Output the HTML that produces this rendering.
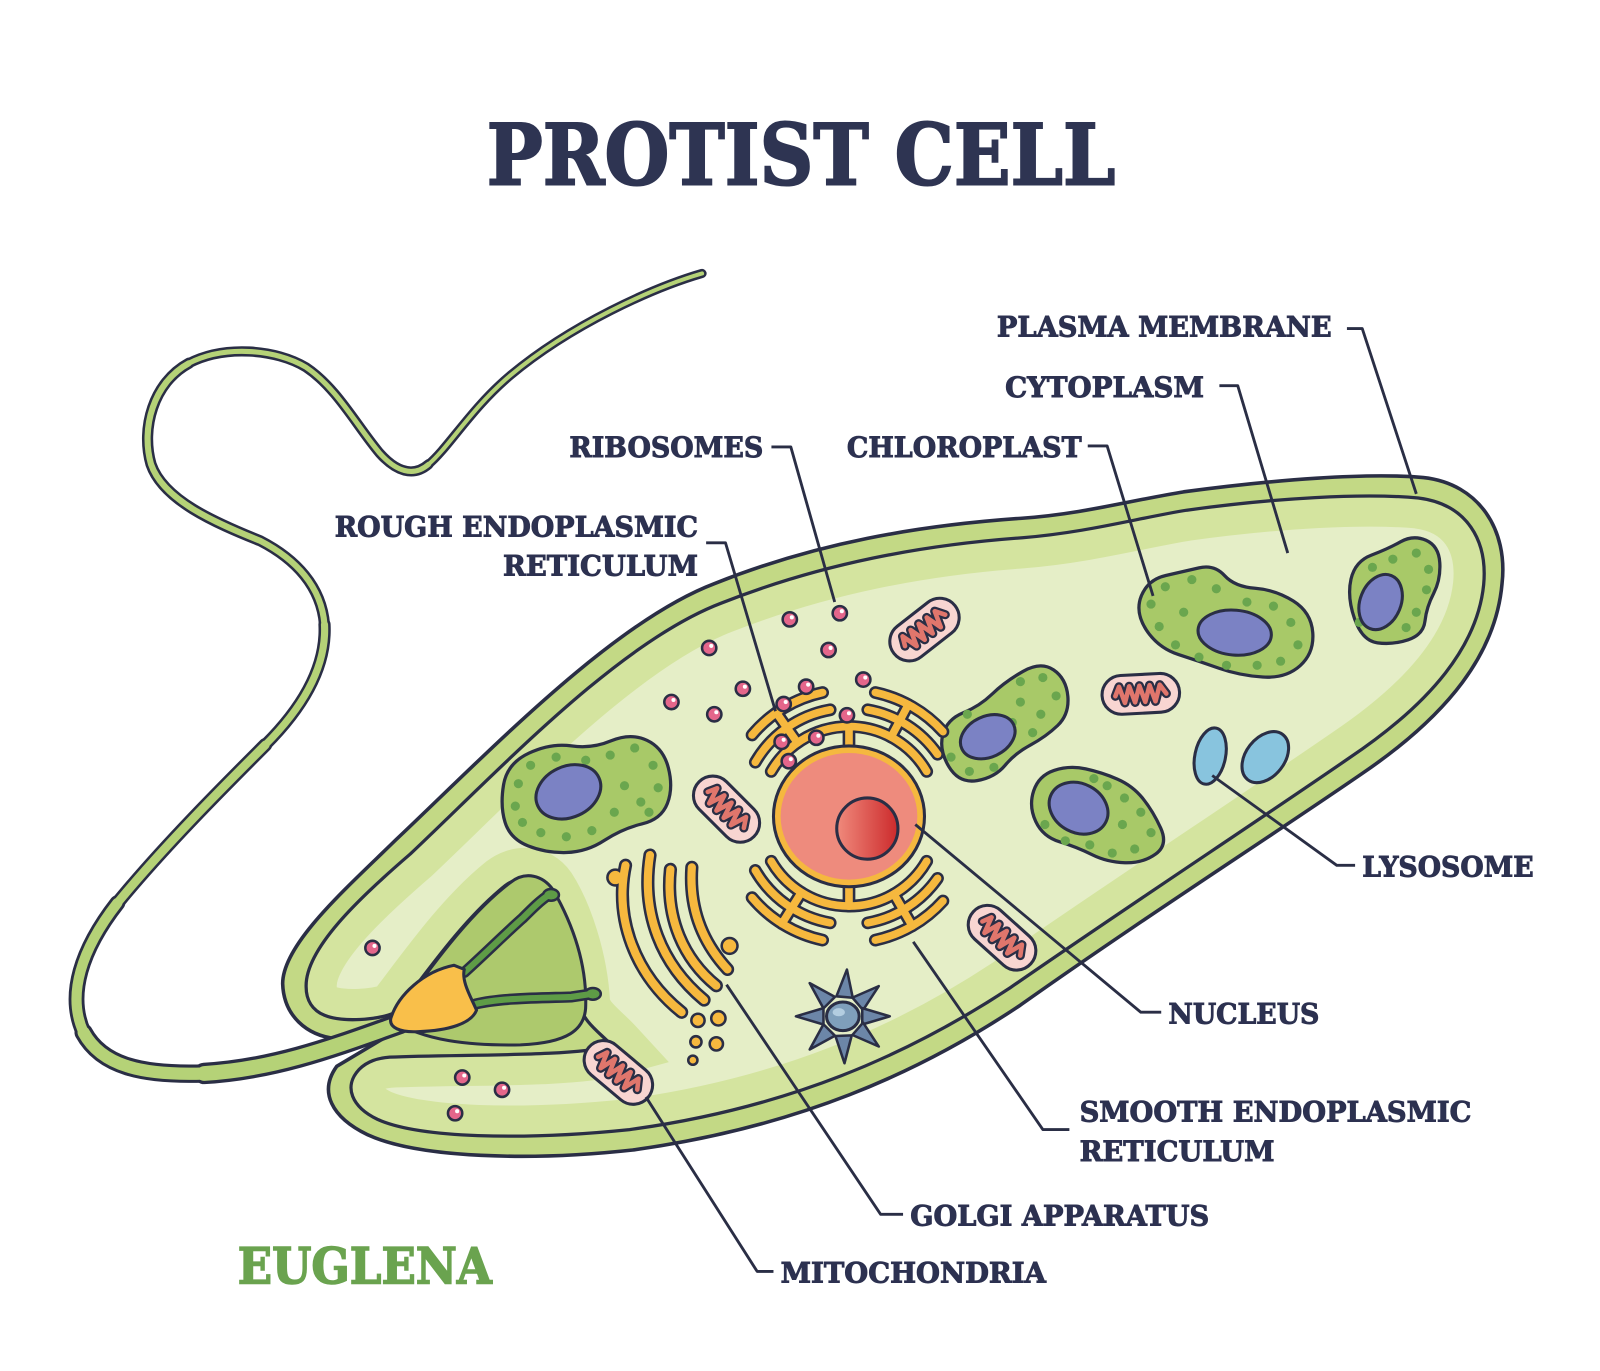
<!DOCTYPE html>
<html>
<head>
<meta charset="utf-8">
<style>
  html,body{margin:0;padding:0;background:#ffffff;}
  svg{display:block;}
  .lbl{font-family:"DejaVu Serif","Liberation Serif",serif;font-weight:bold;fill:#2c3150;font-size:27.5px;stroke:#2c3150;stroke-width:0.9px;}
</style>
</head>
<body>
<svg width="1600" height="1371" viewBox="0 0 1568 1343.6" xmlns="http://www.w3.org/2000/svg">
<defs>
  <path id="cytoPath" d="M 300 967 C 299 930, 352 880, 402 837 C 492 752, 607 629, 707 591 C 806 552, 905 534, 1002 527 C 1064 522, 1114 508, 1163 500 C 1250 488, 1336 483, 1390 488 C 1438 494, 1458 530, 1454 573 C 1448 632, 1404 688, 1322 743 C 1232 805, 1110 885, 990 968 C 890 1034, 772 1086, 617 1107 C 510 1118, 410 1115, 370 1097 C 345 1085, 336 1065, 352 1048 C 360 1040, 370 1037, 382 1036 C 450 1033, 560 1036, 600 1025 C 588 1012, 572 1002, 568 985 C 566 940, 550 895, 535 872 C 525 858, 508 858, 495 868 C 455 900, 420 950, 388 992 C 370 1000, 335 1002, 318 995 C 306 990, 300 980, 300 967 Z"/>
  <clipPath id="cytoClip"><use href="#cytoPath"/></clipPath>
  <linearGradient id="nucg" x1="0" y1="0" x2="1" y2="0">
    <stop offset="0" stop-color="#f08a7c"/>
    <stop offset="1" stop-color="#cc2a2c"/>
  </linearGradient>
  <g id="mito">
    <rect x="-38" y="-19" width="76" height="38" rx="19" fill="#f8d5d1" stroke="#2a2e45" stroke-width="3"/>
    <path d="M -25 1 L -21 -8 L -16 8 L -11 -8 L -6 8 L -1 -8 L 4 8 L 9 -8 L 14 8 L 19 -8 L 25 1" fill="none" stroke="#2a2e45" stroke-width="9" stroke-linejoin="round" stroke-linecap="round"/>
    <path d="M -25 1 L -21 -8 L -16 8 L -11 -8 L -6 8 L -1 -8 L 4 8 L 9 -8 L 14 8 L 19 -8 L 25 1" fill="none" stroke="#e0766c" stroke-width="4.5" stroke-linejoin="round" stroke-linecap="round"/>
  </g>
  <g id="ribo">
    <circle r="7" fill="#e4668b" stroke="#2a2e45" stroke-width="2.5"/>
    <circle cx="2" cy="-2" r="2" fill="#ffffff"/>
  </g>
</defs>

<!-- Title -->
<text x="477" y="181" textLength="616" lengthAdjust="spacingAndGlyphs" style="font-family:'DejaVu Serif','Liberation Serif',serif;font-weight:bold;font-size:83px;fill:#2e3452;stroke:#2e3452;stroke-width:2px;">PROTIST CELL</text>

<!-- Cell outer body (membrane) -->
<path d="M 277 964 C 277 925, 340 870, 388 823 C 478 738, 600 610, 700 572 C 800 532, 900 515, 1000 508 C 1060 504, 1110 490, 1160 482 C 1250 470, 1340 463, 1395 468 C 1450 474, 1478 520, 1472 572 C 1466 640, 1420 700, 1335 758 C 1245 820, 1120 900, 1000 985 C 900 1052, 780 1105, 620 1127 C 520 1138, 410 1135, 360 1112 C 325 1095, 312 1070, 330 1045 L 392 1008 L 330 1018 C 300 1015, 278 995, 277 964 Z" fill="#c3d985" stroke="#2a2e45" stroke-width="3.5" stroke-linejoin="round"/>

<!-- Cytoplasm -->
<use href="#cytoPath" fill="#e5eec7"/>
<g clip-path="url(#cytoClip)">
  <use href="#cytoPath" fill="none" stroke="#d4e49f" stroke-width="60"/>
</g>
<use href="#cytoPath" fill="none" stroke="#2a2e45" stroke-width="3.2" stroke-linejoin="round"/>

<!-- Reservoir -->
<path d="M 385 1000 C 420 950, 460 895, 500 865 C 515 853, 532 858, 542 872 C 558 900, 575 940, 574 985 C 574 1010, 555 1022, 510 1024 C 460 1025, 415 1020, 385 1000 Z" fill="#adc96d" stroke="#2a2e45" stroke-width="3" stroke-linejoin="round"/>

<!-- Flagellum -->
<g fill="none" stroke-linecap="round" stroke-linejoin="round">
  <g stroke="#2a2e45">
    <path d="M 688 268 C 640 282, 560 318, 500 368 C 462 400, 440 438, 420 455" stroke-width="9"/>
    <path d="M 420 455 C 405 468, 388 462, 372 444 C 350 418, 330 380, 300 360 C 270 342, 220 338, 185 356" stroke-width="10"/>
    <path d="M 185 356 C 150 375, 138 420, 148 455 C 160 490, 210 512, 255 530 C 290 548, 315 575, 318 612" stroke-width="11"/>
    <path d="M 318 612 C 320 650, 300 690, 260 730" stroke-width="12"/>
    <path d="M 260 730 C 220 770, 160 830, 115 885" stroke-width="13.5"/>
    <path d="M 115 885 C 80 930, 65 975, 82 1012" stroke-width="15.5"/>
    <path d="M 82 1012 C 100 1045, 140 1054, 200 1052" stroke-width="18"/>
    <path d="M 200 1052 C 270 1048, 330 1025, 392 1003" stroke-width="21"/>
  </g>
  <g stroke="#b5d277">
    <path d="M 688 268 C 640 282, 560 318, 500 368 C 462 400, 440 438, 420 455" stroke-width="4"/>
    <path d="M 420 455 C 405 468, 388 462, 372 444 C 350 418, 330 380, 300 360 C 270 342, 220 338, 185 356" stroke-width="5"/>
    <path d="M 185 356 C 150 375, 138 420, 148 455 C 160 490, 210 512, 255 530 C 290 548, 315 575, 318 612" stroke-width="6"/>
    <path d="M 318 612 C 320 650, 300 690, 260 730" stroke-width="7"/>
    <path d="M 260 730 C 220 770, 160 830, 115 885" stroke-width="8.5"/>
    <path d="M 115 885 C 80 930, 65 975, 82 1012" stroke-width="10"/>
    <path d="M 82 1012 C 100 1045, 140 1054, 200 1052" stroke-width="12"/>
    <path d="M 200 1052 C 270 1048, 330 1025, 392 1003" stroke-width="14.5"/>
  </g>
</g>

<!-- Roots -->
<g fill="none" stroke-linecap="round">
  <path d="M 455 953 C 475 935, 495 915, 512 900 C 522 890, 530 882, 538 877" stroke="#2a2e45" stroke-width="11"/>
  <path d="M 466 984 C 490 978, 530 978, 560 977 L 580 974" stroke="#2a2e45" stroke-width="11"/>
  <ellipse cx="540" cy="877" rx="9" ry="7" fill="#2a2e45" stroke="none"/>
  <ellipse cx="581" cy="974" rx="9" ry="7" fill="#2a2e45" stroke="none"/>
  <path d="M 455 953 C 475 935, 495 915, 512 900 C 522 890, 530 882, 538 877" stroke="#5e9c46" stroke-width="6"/>
  <path d="M 466 984 C 490 978, 530 978, 560 977 L 580 974" stroke="#5e9c46" stroke-width="6"/>
  <ellipse cx="540" cy="877" rx="6.5" ry="4.5" fill="#5e9c46" stroke="none"/>
  <ellipse cx="581" cy="974" rx="6.5" ry="4.5" fill="#5e9c46" stroke="none"/>
</g>

<!-- Eyespot -->
<path d="M 383 998 C 390 975, 415 952, 445 946 L 455 950 C 452 962, 462 978, 467 990 C 462 1003, 440 1010, 410 1011 C 392 1012, 381 1007, 383 998 Z" fill="#f9bf4a" stroke="#2a2e45" stroke-width="3" stroke-linejoin="round"/>

<!-- Chloroplasts -->
<g fill="#a8c968" stroke="#2a2e45" stroke-width="3.2" stroke-linejoin="round">
  <path d="M 493.5 769 Q 497 748 518.5 738 Q 540 728 560 731 Q 580 734 599 726 Q 618 718 634 725.5 Q 650 733 655 752.5 Q 660 772 654 787.5 Q 648 803 629 807.5 Q 610 812 592.5 823.5 Q 575 835 555 835.5 Q 535 836 517.5 829 Q 500 822 495 806 Q 490 790 493.5 769 Z"/>
  <path d="M 924 720 Q 928 705 944 698.5 Q 960 692 972.5 680 Q 985 668 1002.5 658 Q 1020 648 1032.5 656.5 Q 1045 665 1046.5 682.5 Q 1048 700 1036.5 711 Q 1025 722 1010 730 Q 995 738 985 750 Q 975 762 957.5 765 Q 940 768 930 751.5 Q 920 735 924 720 Z"/>
  <path d="M 1013 775 Q 1018 760 1033 755 Q 1048 750 1064 753.5 Q 1080 757 1095 763.5 Q 1110 770 1120 782.5 Q 1130 795 1137.5 811.5 Q 1145 828 1132.5 837 Q 1120 846 1102.5 845.5 Q 1085 845 1070 837.5 Q 1055 830 1038.5 825 Q 1022 820 1015 805 Q 1008 790 1013 775 Z"/>
  <path d="M 1118.5 584 Q 1125 568 1142.5 564 Q 1160 560 1175 556.5 Q 1190 553 1200 564 Q 1210 575 1230 576.5 Q 1250 578 1267.5 589 Q 1285 600 1286.5 620 Q 1288 640 1274 652.5 Q 1260 665 1237.5 663.5 Q 1215 662 1195 655 Q 1175 648 1155 641.5 Q 1135 635 1123.5 617.5 Q 1112 600 1118.5 584 Z"/>
  <path d="M 1324 567.5 Q 1328 550 1344 544 Q 1360 538 1372.5 531 Q 1385 524 1397.5 529.5 Q 1410 535 1411 551.5 Q 1412 568 1405 581.5 Q 1398 595 1396.5 608.5 Q 1395 622 1380 627 Q 1365 632 1350 630 Q 1335 628 1327.5 606.5 Q 1320 585 1324 567.5 Z"/>
</g>
<g fill="#6aa64e">
  <circle cx="505" cy="790" r="4.5"/><circle cx="508" cy="768" r="4.5"/><circle cx="520" cy="750" r="4.5"/><circle cx="545" cy="742" r="4.5"/><circle cx="574" cy="745" r="4.5"/><circle cx="598" cy="740" r="4.5"/><circle cx="622" cy="733" r="4.5"/><circle cx="640" cy="750" r="4.5"/><circle cx="645" cy="772" r="4.5"/><circle cx="628" cy="786" r="4.5"/><circle cx="612" cy="770" r="4.5"/><circle cx="602" cy="796" r="4.5"/><circle cx="636" cy="796" r="4.5"/><circle cx="580" cy="814" r="4.5"/><circle cx="555" cy="820" r="4.5"/><circle cx="530" cy="816" r="4.5"/><circle cx="512" cy="806" r="4.5"/>
  <circle cx="1000" cy="668" r="4.5"/><circle cx="1022" cy="664" r="4.5"/><circle cx="1035" cy="682" r="4.5"/><circle cx="1020" cy="700" r="4.5"/><circle cx="1000" cy="688" r="4.5"/><circle cx="992" cy="708" r="4.5"/><circle cx="1012" cy="718" r="4.5"/><circle cx="932" cy="742" r="4.5"/><circle cx="950" cy="756" r="4.5"/><circle cx="948" cy="700" r="4.5"/><circle cx="974" cy="752" r="4.5"/>
  <circle cx="1085" cy="770" r="4.5"/><circle cx="1102" cy="782" r="4.5"/><circle cx="1118" cy="796" r="4.5"/><circle cx="1128" cy="816" r="4.5"/><circle cx="1112" cy="832" r="4.5"/><circle cx="1090" cy="836" r="4.5"/><circle cx="1068" cy="828" r="4.5"/><circle cx="1100" cy="808" r="4.5"/><circle cx="1044" cy="824" r="4.5"/><circle cx="1024" cy="808" r="4.5"/><circle cx="1072" cy="763" r="4.5"/>
  <circle cx="1128" cy="592" r="4.5"/><circle cx="1142" cy="575" r="4.5"/><circle cx="1168" cy="568" r="4.5"/><circle cx="1192" cy="577" r="4.5"/><circle cx="1222" cy="590" r="4.5"/><circle cx="1248" cy="594" r="4.5"/><circle cx="1265" cy="610" r="4.5"/><circle cx="1272" cy="632" r="4.5"/><circle cx="1255" cy="648" r="4.5"/><circle cx="1232" cy="652" r="4.5"/><circle cx="1202" cy="652" r="4.5"/><circle cx="1175" cy="644" r="4.5"/><circle cx="1152" cy="632" r="4.5"/><circle cx="1136" cy="614" r="4.5"/><circle cx="1160" cy="600" r="4.5"/>
  <circle cx="1345" cy="556" r="4.5"/><circle cx="1365" cy="548" r="4.5"/><circle cx="1388" cy="542" r="4.5"/><circle cx="1400" cy="558" r="4.5"/><circle cx="1398" cy="578" r="4.5"/><circle cx="1388" cy="600" r="4.5"/><circle cx="1378" cy="615" r="4.5"/><circle cx="1332" cy="610" r="4.5"/>
</g>
<g fill="#7b82c4" stroke="#2a2e45" stroke-width="3">
  <ellipse cx="557" cy="776" rx="33" ry="25" transform="rotate(-25 557 776)"/>
  <ellipse cx="968" cy="722" rx="28" ry="20" transform="rotate(-25 968 722)"/>
  <ellipse cx="1057" cy="792" rx="30" ry="24" transform="rotate(28 1057 792)"/>
  <ellipse cx="1210" cy="620" rx="36" ry="22" transform="rotate(5 1210 620)"/>
  <ellipse cx="1353" cy="590" rx="20" ry="28" transform="rotate(22 1353 590)"/>
</g>

<!-- Mitochondria -->
<use href="#mito" transform="translate(906 617) rotate(-38)"/>
<use href="#mito" transform="translate(712 793) rotate(45)"/>
<use href="#mito" transform="translate(982 919) rotate(42)"/>
<use href="#mito" transform="translate(1118 680) rotate(-3)"/>
<use href="#mito" transform="translate(606 1051) rotate(40)"/>

<!-- Lysosomes -->
<g fill="#88c4de" stroke="#2a2e45" stroke-width="3">
  <ellipse cx="1186" cy="741" rx="15" ry="28" transform="rotate(12 1186 741)"/>
  <ellipse cx="1240" cy="742" rx="19" ry="28" transform="rotate(38 1240 742)"/>
</g>

<!-- Golgi apparatus -->
<g fill="none" stroke-linecap="round">
  <g stroke="#2a2e45" stroke-width="13">
    <path d="M 613 848 C 602 900, 622 955, 668 992"/>
    <path d="M 637 838 C 628 895, 648 945, 690 980"/>
    <path d="M 657 852 C 652 900, 670 940, 702 966"/>
    <path d="M 678 850 C 675 893, 690 925, 713 950"/>
  </g>
  <g fill="#2a2e45" stroke="none">
    <circle cx="603" cy="860" r="9"/><circle cx="715" cy="927" r="9"/>
  </g>
  <g stroke="#f6b83e" stroke-width="8">
    <path d="M 613 848 C 602 900, 622 955, 668 992"/>
    <path d="M 637 838 C 628 895, 648 945, 690 980"/>
    <path d="M 657 852 C 652 900, 670 940, 702 966"/>
    <path d="M 678 850 C 675 893, 690 925, 713 950"/>
  </g>
  <g fill="#f6b83e" stroke="none">
    <circle cx="603" cy="860" r="6.5"/><circle cx="715" cy="927" r="6.5"/>
  </g>
</g>
<g fill="#f6b83e" stroke="#2a2e45" stroke-width="2.5">
  <circle cx="684" cy="1000" r="6.5"/><circle cx="704" cy="998" r="7"/><circle cx="682" cy="1021" r="5.5"/><circle cx="702" cy="1023" r="6.5"/><circle cx="679" cy="1039" r="4.5"/>
</g>

<!-- Rough & smooth ER -->
<g fill="none" stroke-linecap="round">
  <g stroke="#2a2e45" stroke-width="12.5">
    <path d="M 755.8 756 A 88 88 0 0 1 908.2 756"/>
    <path d="M 740.2 747 A 106 106 0 0 1 813.6 695.6"/>
    <path d="M 850.4 695.6 A 106 106 0 0 1 918.8 739.2"/>
    <path d="M 737 720.3 A 124 124 0 0 1 806.2 678.7"/>
    <path d="M 857.8 678.7 A 124 124 0 0 1 924.1 717"/>
    <path d="M 832 734 L 832 712"/>
    <path d="M 781.5 727.9 L 760.8 698.4"/>
    <path d="M 873.3 722.3 L 890.2 690.5"/>
    <path d="M 908.2 844 A 88 88 0 0 1 755.8 844"/>
    <path d="M 918.8 860.8 A 106 106 0 0 1 850.4 904.4"/>
    <path d="M 813.6 904.4 A 106 106 0 0 1 740.2 853"/>
    <path d="M 924.1 883 A 124 124 0 0 1 857.8 921.3"/>
    <path d="M 806.2 921.3 A 124 124 0 0 1 737 879.7"/>
    <path d="M 832 866 L 832 888"/>
    <path d="M 876 876.2 L 894 907.4"/>
    <path d="M 785.4 874.6 L 766.3 905.2"/>
  </g>
  <g stroke="#f6b83e" stroke-width="7.5">
    <path d="M 755.8 756 A 88 88 0 0 1 908.2 756"/>
    <path d="M 740.2 747 A 106 106 0 0 1 813.6 695.6"/>
    <path d="M 850.4 695.6 A 106 106 0 0 1 918.8 739.2"/>
    <path d="M 737 720.3 A 124 124 0 0 1 806.2 678.7"/>
    <path d="M 857.8 678.7 A 124 124 0 0 1 924.1 717"/>
    <path d="M 832 736 L 832 712"/>
    <path d="M 781.5 727.9 L 760.8 698.4"/>
    <path d="M 873.3 722.3 L 890.2 690.5"/>
    <path d="M 908.2 844 A 88 88 0 0 1 755.8 844"/>
    <path d="M 918.8 860.8 A 106 106 0 0 1 850.4 904.4"/>
    <path d="M 813.6 904.4 A 106 106 0 0 1 740.2 853"/>
    <path d="M 924.1 883 A 124 124 0 0 1 857.8 921.3"/>
    <path d="M 806.2 921.3 A 124 124 0 0 1 737 879.7"/>
    <path d="M 832 864 L 832 888"/>
    <path d="M 876 876.2 L 894 907.4"/>
    <path d="M 785.4 874.6 L 766.3 905.2"/>
  </g>
</g>

<!-- Nucleus -->
<ellipse cx="832" cy="800" rx="74" ry="69" fill="#f5b83f" stroke="#2a2e45" stroke-width="3"/>
<ellipse cx="832" cy="800" rx="67" ry="62" fill="#ee8b7d"/>
<circle cx="850" cy="812" r="30" fill="url(#nucg)" stroke="#2a2e45" stroke-width="3"/>

<!-- Centrosome -->
<g fill="#6c86a8" stroke="#2a2e45" stroke-width="2.5" stroke-linejoin="round">
  <polygon points="830,950.2 835.7,977.8 819.7,976.4"/>
  <polygon points="861.2,966.4 845.8,989.9 835.4,977.7"/>
  <polygon points="872,996 845,1004 845,988"/>
  <polygon points="861.2,1025.6 835.4,1014.3 845.8,1002.1"/>
  <polygon points="827.6,1042 818.7,1015.3 834.7,1014.7"/>
  <polygon points="793.5,1028.5 807,1003.8 818.2,1015"/>
  <polygon points="780,996 807,988 807,1004"/>
  <polygon points="793.5,963.5 818.2,977 807,988.2"/>
</g>
<ellipse cx="826" cy="996" rx="16" ry="14" fill="#7f9fbb" stroke="#2a2e45" stroke-width="3"/>
<ellipse cx="822" cy="992" rx="6" ry="4" fill="#b3cde0"/>

<!-- Ribosomes -->
<use href="#ribo" x="823" y="601"/><use href="#ribo" x="774" y="607"/><use href="#ribo" x="812" y="637"/><use href="#ribo" x="695" y="635"/><use href="#ribo" x="658" y="688"/><use href="#ribo" x="700" y="700"/><use href="#ribo" x="728" y="675"/>
<use href="#ribo" x="768" y="690"/><use href="#ribo" x="790" y="673"/><use href="#ribo" x="846" y="666"/><use href="#ribo" x="830" y="701"/><use href="#ribo" x="766" y="727"/><use href="#ribo" x="800" y="723"/><use href="#ribo" x="773" y="746"/>
<use href="#ribo" x="365" y="929"/><use href="#ribo" x="453" y="1056"/><use href="#ribo" x="492" y="1068"/><use href="#ribo" x="446" y="1091"/>

<!-- Leader lines -->
<g fill="none" stroke="#2a2e45" stroke-width="2.8" stroke-linejoin="round">
  <polyline points="1320,322 1335,322 1388,484"/>
  <polyline points="1195,378 1213,378 1262,542"/>
  <polyline points="1066,437 1085,437 1130,584"/>
  <polyline points="756,438 775,438 818,590"/>
  <polyline points="692,532 711,532 760,697"/>
  <polyline points="1188,760 1310,848 1328,848"/>
  <polyline points="897,808 1118,992 1138,992"/>
  <polyline points="895,923 1022,1107 1048,1107"/>
  <polyline points="712,965 863,1190 885,1190"/>
  <polyline points="633,1075 742,1246 758,1246"/>
</g>

<!-- Labels -->
<text class="lbl" x="977" y="330" textLength="328" lengthAdjust="spacingAndGlyphs">PLASMA MEMBRANE</text>
<text class="lbl" x="985" y="389" textLength="195" lengthAdjust="spacingAndGlyphs">CYTOPLASM</text>
<text class="lbl" x="830" y="448" textLength="230" lengthAdjust="spacingAndGlyphs">CHLOROPLAST</text>
<text class="lbl" x="558" y="448" textLength="190" lengthAdjust="spacingAndGlyphs">RIBOSOMES</text>
<text class="lbl" x="328" y="526" textLength="356" lengthAdjust="spacingAndGlyphs">ROUGH ENDOPLASMIC</text>
<text class="lbl" x="493" y="564" textLength="191" lengthAdjust="spacingAndGlyphs">RETICULUM</text>
<text class="lbl" x="1335" y="859" textLength="168" lengthAdjust="spacingAndGlyphs">LYSOSOME</text>
<text class="lbl" x="1145" y="1003" textLength="148" lengthAdjust="spacingAndGlyphs">NUCLEUS</text>
<text class="lbl" x="1058" y="1099" textLength="384" lengthAdjust="spacingAndGlyphs">SMOOTH ENDOPLASMIC</text>
<text class="lbl" x="1058" y="1138" textLength="191" lengthAdjust="spacingAndGlyphs">RETICULUM</text>
<text class="lbl" x="892" y="1201" textLength="293" lengthAdjust="spacingAndGlyphs">GOLGI APPARATUS</text>
<text class="lbl" x="765" y="1257" textLength="260" lengthAdjust="spacingAndGlyphs">MITOCHONDRIA</text>
<text x="233" y="1258" textLength="249" lengthAdjust="spacingAndGlyphs" style="font-family:'DejaVu Serif','Liberation Serif',serif;font-weight:bold;font-size:49px;fill:#6aa34f;stroke:#6aa34f;stroke-width:1.5px;">EUGLENA</text>
</svg>
</body>
</html>
